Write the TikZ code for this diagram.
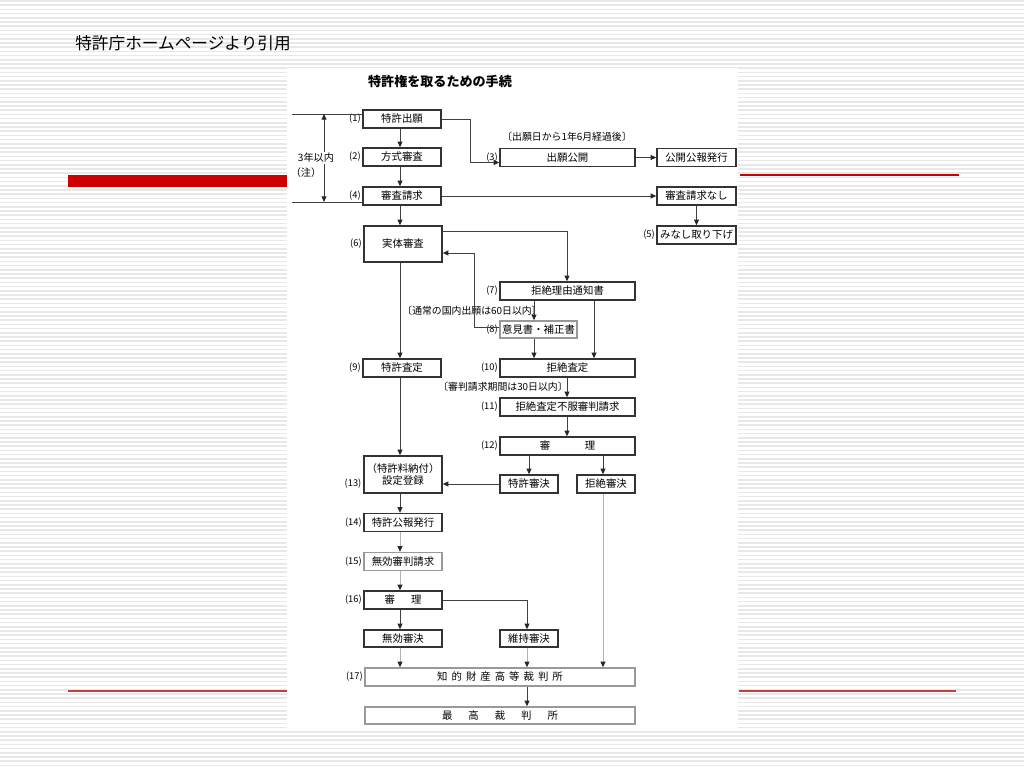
\documentclass[tikz,border=0pt]{standalone}
\usepackage{fontspec}
\newfontfamily\jp{Noto Sans CJK JP}
\usetikzlibrary{arrows.meta,calc}
\definecolor{slidered}{HTML}{CC0000}
\definecolor{thinred}{HTML}{C04040}
\begin{document}
\begin{tikzpicture}[x=0.75pt,y=-0.75pt,
  box/.style={draw=black!80, line width=1pt, fill=white, inner sep=0pt, font=\jp\fontsize{7.8}{9.5}\selectfont},
  B/.style 2 args={box, minimum width=#1*0.75pt, minimum height=#2*0.75pt},
  lightbox/.style={draw=black!40},
  lbl/.style={font=\jp\fontsize{7}{8}\selectfont, inner sep=1pt},
  note/.style={font=\jp\fontsize{7.4}{8.5}\selectfont, inner sep=0pt},
  tip/.style={-{Triangle[length=4.2pt,width=3.6pt,color=black!85]}},
  ln/.style={draw=black!75, line width=0.75pt},
  arr/.style={ln, tip},
  larr/.style={draw=black!30, line width=0.75pt, tip},
  stripe/.style={draw=black!9, line width=1.1pt}
]
\useasboundingbox (0,0) rectangle (1024,768);
\fill[white] (0,0) rectangle (1024,768);
\foreach \i in {0,...,182} \draw[stripe] (0,\i*4.2+1) -- (1024,\i*4.2+1);
% slide decorations
\fill[slidered] (68,175) rectangle (287,187);
\draw[slidered, line width=0.8pt] (740,175) -- (959,175);
\draw[thinred, line width=0.8pt] (68,691) -- (287,691);
\draw[thinred, line width=0.8pt] (739,691) -- (956,691);
\fill[white] (287,68) rectangle (738,731);
\node[anchor=west, font=\jp\fontsize{12.5}{14}\selectfont, inner sep=0pt] (slidetitle) at (75,43) {特許庁ホームページより引用};
\node[font=\jp\bfseries\fontsize{9.8}{12}\selectfont, inner sep=0pt] (charttitle) at (440,81) {特許権を取るための手続};

% boxes
\node[B={78}{18}, label={[lbl]left:(1)}] (n1) at (402,119) {特許出願};
\node[B={78}{18}, label={[lbl]left:(2)}] (n2) at (402,157) {方式審査};
\node[B={78}{18}, label={[lbl]left:(4)}] (n4) at (402,196) {審査請求};
\node[B={135}{18}, label={[lbl]left:(3)}] (n3) at (567.5,157.5) {出願公開};
\node[B={79}{18}] (koho) at (696.5,157.5) {公開公報発行};
\node[B={79}{18}] (nashi) at (696.5,196) {審査請求なし};
\node[B={79}{18}, label={[lbl]left:(5)}] (n5) at (696.5,235) {みなし取り下げ};
\node[B={78}{36}, label={[lbl]left:(6)}] (n6) at (403,244) {実体審査};
\node[B={135}{18}, label={[lbl]left:(7)}] (n7) at (567.5,291) {拒絶理由通知書};
\node[B={77}{17}, lightbox, label={[lbl]left:(8)}] (n8) at (538.5,329.5) {意見書・補正書};
\node[B={78}{18}, label={[lbl]left:(9)}] (n9) at (402,368) {特許査定};
\node[B={135}{18}, label={[lbl]left:(10)}] (n10) at (567.5,368) {拒絶査定};
\node[B={135}{18}, label={[lbl]left:(11)}] (n11) at (567.5,407) {拒絶査定不服審判請求};
\node[B={135}{18}, label={[lbl]left:(12)}] (n12) at (567.5,446) {審\hspace{26pt}理};
\node[B={78}{37}, align=center] (n13) at (403,474.5) {（特許料納付）\\設定登録};
\node[lbl, anchor=east] (l13) at (363,484) {(13)};
\node[B={58}{18}] (tok) at (529,484) {特許審決};
\node[B={58}{18}] (kyo) at (606,484) {拒絶審決};
\node[B={78}{18}, label={[lbl]left:(14)}] (n14) at (403,522.5) {特許公報発行};
\node[B={78}{18}, lightbox, label={[lbl]left:(15)}] (n15) at (403,561.5) {無効審判請求};
\node[B={78}{18}, label={[lbl]left:(16)}] (n16) at (403,600) {審\hspace{12pt}理};
\node[B={78}{17}] (muko) at (403,638.5) {無効審決};
\node[B={58}{17}] (iji) at (529,638.5) {維持審決};
\node[B={270}{18}, lightbox, label={[lbl]left:(17)}] (n17) at (500,677) {知\hspace{3pt}的\hspace{3pt}財\hspace{3pt}産\hspace{3pt}高\hspace{3pt}等\hspace{3pt}裁\hspace{3pt}判\hspace{3pt}所};
\node[B={270}{17}, lightbox] (sai) at (500,715.5) {最\hspace{12pt}高\hspace{12pt}裁\hspace{12pt}判\hspace{12pt}所};

% notes
\node[note] (note3) at (567,137) {〔出願日から1年6月経過後〕};
\node[note] (note8) at (472,311) {〔通常の国内出願は60日以内〕};
\node[note] (note11) at (503,387) {〔審判請求期間は30日以内〕};

% 3-year bracket
\coordinate (tA) at (292,114);
\coordinate (tB) at (363,114);
\coordinate (bA) at (292,202);
\coordinate (bB) at (363,202);
\coordinate (vT) at (324,114);
\coordinate (vB) at (324,202);
\draw[ln] (tA) -- (tB);
\draw[ln] (bA) -- (bB);
\draw[ln, {Triangle[length=4.2pt,width=3.6pt,color=black!85]}-{Triangle[length=4.2pt,width=3.6pt,color=black!85]}] (vT) -- (vB);
\node[font=\jp\fontsize{7.6}{9}\selectfont, fill=white, inner sep=1pt] (yrs) at (316,158) {3年以内};
\node[font=\jp\fontsize{7.6}{9}\selectfont, inner sep=0pt] (chu) at (306,173) {（注）};

% helper x positions
\coordinate (x400) at (400,0);
\coordinate (x470) at (470,0);
\coordinate (x534) at (534,0);
\coordinate (x594) at (594,0);
\coordinate (x567) at (567,0);
\coordinate (x603) at (603,0);
\coordinate (x527) at (527,0);

% connectors
\draw[arr] (n1.south -| x400) -- (n2.north -| x400);
\draw[arr] (n2.south -| x400) -- (n4.north -| x400);
\draw[arr] (n4.south -| x400) -- (n6.north -| x400);
\draw[arr] (n1.east) -- (n1.east -| x470) |- ($(n3.west)+(0,5)$);
\draw[arr] (n3.east) -- (koho.west);
\draw[arr] (n4.east) -- (nashi.west);
\draw[arr] (nashi.south) -- (n5.north);
\draw[arr] ($(n6.north east)+(0,6)$) -| (n7.north -| x567);
\draw[arr] ($(n8.west)+(0,-2)$) -| ($(n6.east)+(32,9)$) -- ($(n6.east)+(0,9)$);
\draw[arr] (n7.south -| x534) -- (n8.north -| x534);
\draw[arr] (n7.south -| x594) -- (n10.north -| x594);
\draw[arr] (n8.south -| x534) -- (n10.north -| x534);
\draw[arr] (n6.south -| x400) -- (n9.north -| x400);
\draw[arr] (n9.south -| x400) -- (n13.north -| x400);
\draw[arr] (n10.south -| x567) -- (n11.north -| x567);
\draw[arr] (n11.south -| x567) -- (n12.north -| x567);
\draw[arr] (n12.south -| tok) -- (tok.north);
\draw[arr] (n12.south -| x603) -- (kyo.north -| x603);
\draw[arr] (tok.west) -- (tok.west -| n13.east);
\draw[arr] (n13.south -| x400) -- (n14.north -| x400);
\draw[larr] (n14.south -| x400) -- (n15.north -| x400);
\draw[larr] (n15.south -| x400) -- (n16.north -| x400);
\draw[arr] (n16.south -| x400) -- (muko.north -| x400);
\draw[arr] (n16.east) -| (iji.north -| x527);
\draw[larr] (muko.south -| x400) -- (n17.north -| x400);
\draw[larr] (iji.south -| x527) -- (n17.north -| x527);
\draw[larr] (kyo.south -| x603) -- (n17.north -| x603);
\draw[arr] (n17.south -| x527) -- (sai.north -| x527);
\end{tikzpicture}
\end{document}
